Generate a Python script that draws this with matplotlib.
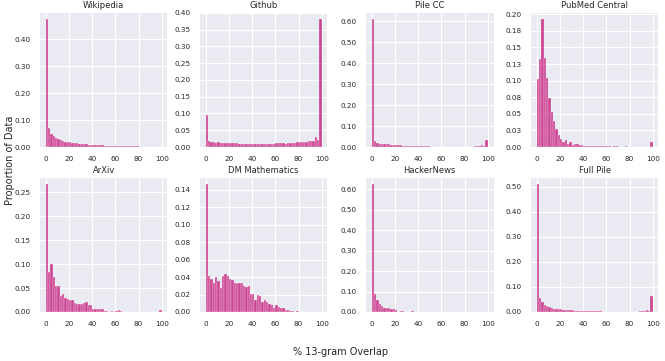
import matplotlib
matplotlib.use("Agg")
import matplotlib.pyplot as plt
import numpy as np
import seaborn as sns
from matplotlib.ticker import FormatStrFormatter, MultipleLocator

# histogram bins: 0-2, 2-4, ..., 98-100 (% 13-gram overlap)
bin_edges = np.arange(0, 101, 2)

titles = ["Wikipedia", "Github", "Pile CC", "PubMed Central",
          "ArXiv", "DM Mathematics", "HackerNews", "Full Pile"]

wikipedia = [0.475, 0.072, 0.050, 0.040, 0.034, 0.030, 0.026, 0.023, 0.020, 0.019,
             0.018, 0.016, 0.015, 0.013, 0.012, 0.011, 0.010, 0.010, 0.009, 0.008,
             0.008, 0.007, 0.007, 0.006, 0.006, 0.005, 0.005, 0.005, 0.004, 0.004,
             0.004, 0.003, 0.003, 0.003, 0.003, 0.002, 0.002, 0.002, 0.002, 0.002,
             0.001, 0.001, 0.001, 0.0, 0.0, 0.0, 0.0, 0.0, 0.0, 0.0]
github = [0.094, 0.019, 0.016, 0.016, 0.013, 0.014, 0.013, 0.012, 0.013, 0.012,
          0.012, 0.011, 0.012, 0.011, 0.010, 0.010, 0.010, 0.010, 0.009, 0.009,
          0.009, 0.008, 0.008, 0.008, 0.008, 0.009, 0.008, 0.009, 0.008, 0.008,
          0.011, 0.011, 0.011, 0.011, 0.010, 0.011, 0.012, 0.013, 0.013, 0.014,
          0.015, 0.015, 0.016, 0.016, 0.017, 0.018, 0.019, 0.030, 0.020, 0.382]
pile_cc = [0.612, 0.028, 0.021, 0.016, 0.014, 0.013, 0.013, 0.012, 0.011, 0.010,
           0.009, 0.008, 0.008, 0.007, 0.006, 0.006, 0.005, 0.005, 0.004, 0.004,
           0.004, 0.003, 0.003, 0.003, 0.003, 0.002, 0.002, 0.002, 0.002, 0.002,
           0.001, 0.001, 0.001, 0.001, 0.001, 0.001, 0.001, 0.001, 0.001, 0.001,
           0.001, 0.001, 0.001, 0.002, 0.003, 0.004, 0.004, 0.008, 0.005, 0.034]
pubmed = [0.103, 0.132, 0.193, 0.134, 0.104, 0.074, 0.053, 0.039, 0.027, 0.018,
          0.012, 0.008, 0.011, 0.005, 0.007, 0.003, 0.005, 0.004, 0.003, 0.003,
          0.002, 0.002, 0.002, 0.001, 0.001, 0.001, 0.001, 0.001, 0.001, 0.001,
          0.001, 0.001, 0.0, 0.001, 0.001, 0.0, 0.0, 0.0, 0.001, 0.0,
          0.0, 0.0, 0.0, 0.0, 0.0, 0.0, 0.0, 0.0, 0.0, 0.008]
arxiv = [0.2675, 0.084, 0.101, 0.073, 0.054, 0.054, 0.033, 0.037, 0.030, 0.027,
         0.025, 0.026, 0.018, 0.017, 0.017, 0.017, 0.018, 0.020, 0.015, 0.015,
         0.007, 0.006, 0.006, 0.006, 0.007, 0.002, 0.002, 0.001, 0.002, 0.001,
         0.003, 0.004, 0.002, 0.0, 0.001, 0.001, 0.001, 0.0, 0.001, 0.0,
         0.0, 0.001, 0.0005, 0.0, 0.0, 0.0, 0.0, 0.0, 0.0, 0.004]
dm_math = [0.1465, 0.041, 0.038, 0.0335, 0.0395, 0.036, 0.028, 0.0415, 0.044, 0.041,
           0.038, 0.037, 0.0335, 0.033, 0.033, 0.033, 0.030, 0.029, 0.030, 0.021,
           0.021, 0.014, 0.0195, 0.018, 0.011, 0.0135, 0.011, 0.009, 0.008, 0.005,
           0.008, 0.006, 0.0045, 0.0045, 0.0025, 0.0025, 0.001, 0.0015, 0.0005, 0.0008,
           0.0, 0.0, 0.0, 0.0, 0.0, 0.0, 0.0, 0.0, 0.0, 0.0]
hackernews = [0.625, 0.087, 0.057, 0.039, 0.028, 0.021, 0.018, 0.018, 0.016, 0.015,
              0.011, 0.002, 0.004, 0.003, 0.002, 0.001, 0.002, 0.003, 0.001, 0.0,
              0.0, 0.0, 0.0, 0.0, 0.0, 0.0, 0.0, 0.0, 0.0, 0.0,
              0.0, 0.0, 0.0, 0.0, 0.0, 0.0, 0.0, 0.0, 0.0, 0.0,
              0.0, 0.0, 0.0, 0.0, 0.0, 0.0, 0.0, 0.0, 0.0, 0.0]
full_pile = [0.511, 0.055, 0.039, 0.028, 0.023, 0.019, 0.016, 0.013, 0.012, 0.011,
             0.010, 0.009, 0.008, 0.007, 0.0065, 0.006, 0.005, 0.0045, 0.004, 0.004,
             0.0035, 0.003, 0.003, 0.0025, 0.0025, 0.002, 0.002, 0.002, 0.0015, 0.0015,
             0.0015, 0.001, 0.001, 0.001, 0.001, 0.001, 0.001, 0.001, 0.001, 0.001,
             0.001, 0.001, 0.0015, 0.0015, 0.002, 0.002, 0.003, 0.006, 0.004, 0.0655]

series = [wikipedia, github, pile_cc, pubmed, arxiv, dm_math, hackernews, full_pile]
y_steps = [0.1, 0.05, 0.1, 0.025, 0.05, 0.02, 0.1, 0.1]

sns.set_style("darkgrid")
plt.rcParams["font.family"] = ["DejaVu Sans"]

fig = plt.figure(figsize=(6.65, 3.61), dpi=100)

col_left = [40, 200, 366, 531]
row_top = [12.5, 177.5]
ax_w, ax_h = 127.5, 134.5
W, H = 665.0, 361.0

for i, (title, vals) in enumerate(zip(titles, series)):
    r, c = divmod(i, 4)
    ax = fig.add_axes([col_left[c] / W, 1 - (row_top[r] + ax_h) / H, ax_w / W, ax_h / H])
    ax.bar(bin_edges[:-1], vals, width=2, align="edge", color="#c51b7d",
           alpha=0.8, edgecolor="white", linewidth=0.25)
    ax.set_title(title, fontsize=6, pad=3, color=".15")
    ax.set_xticks([0, 20, 40, 60, 80, 100])
    ax.yaxis.set_major_locator(MultipleLocator(y_steps[i]))
    ax.yaxis.set_major_formatter(FormatStrFormatter("%.2f"))
    ax.tick_params(labelsize=5.2, colors=".15", pad=3)
    ax.grid(color="white", linewidth=0.8)
    for s in ax.spines.values():
        s.set_visible(False)

fig.text(0.512, 0.025, "% 13-gram Overlap", ha="center", va="center", fontsize=7, color=".15")
fig.text(0.015, 0.557, "Proportion of Data", ha="center", va="center", rotation=90,
         fontsize=7, color=".15")

fig.savefig("out.png", dpi=100)
